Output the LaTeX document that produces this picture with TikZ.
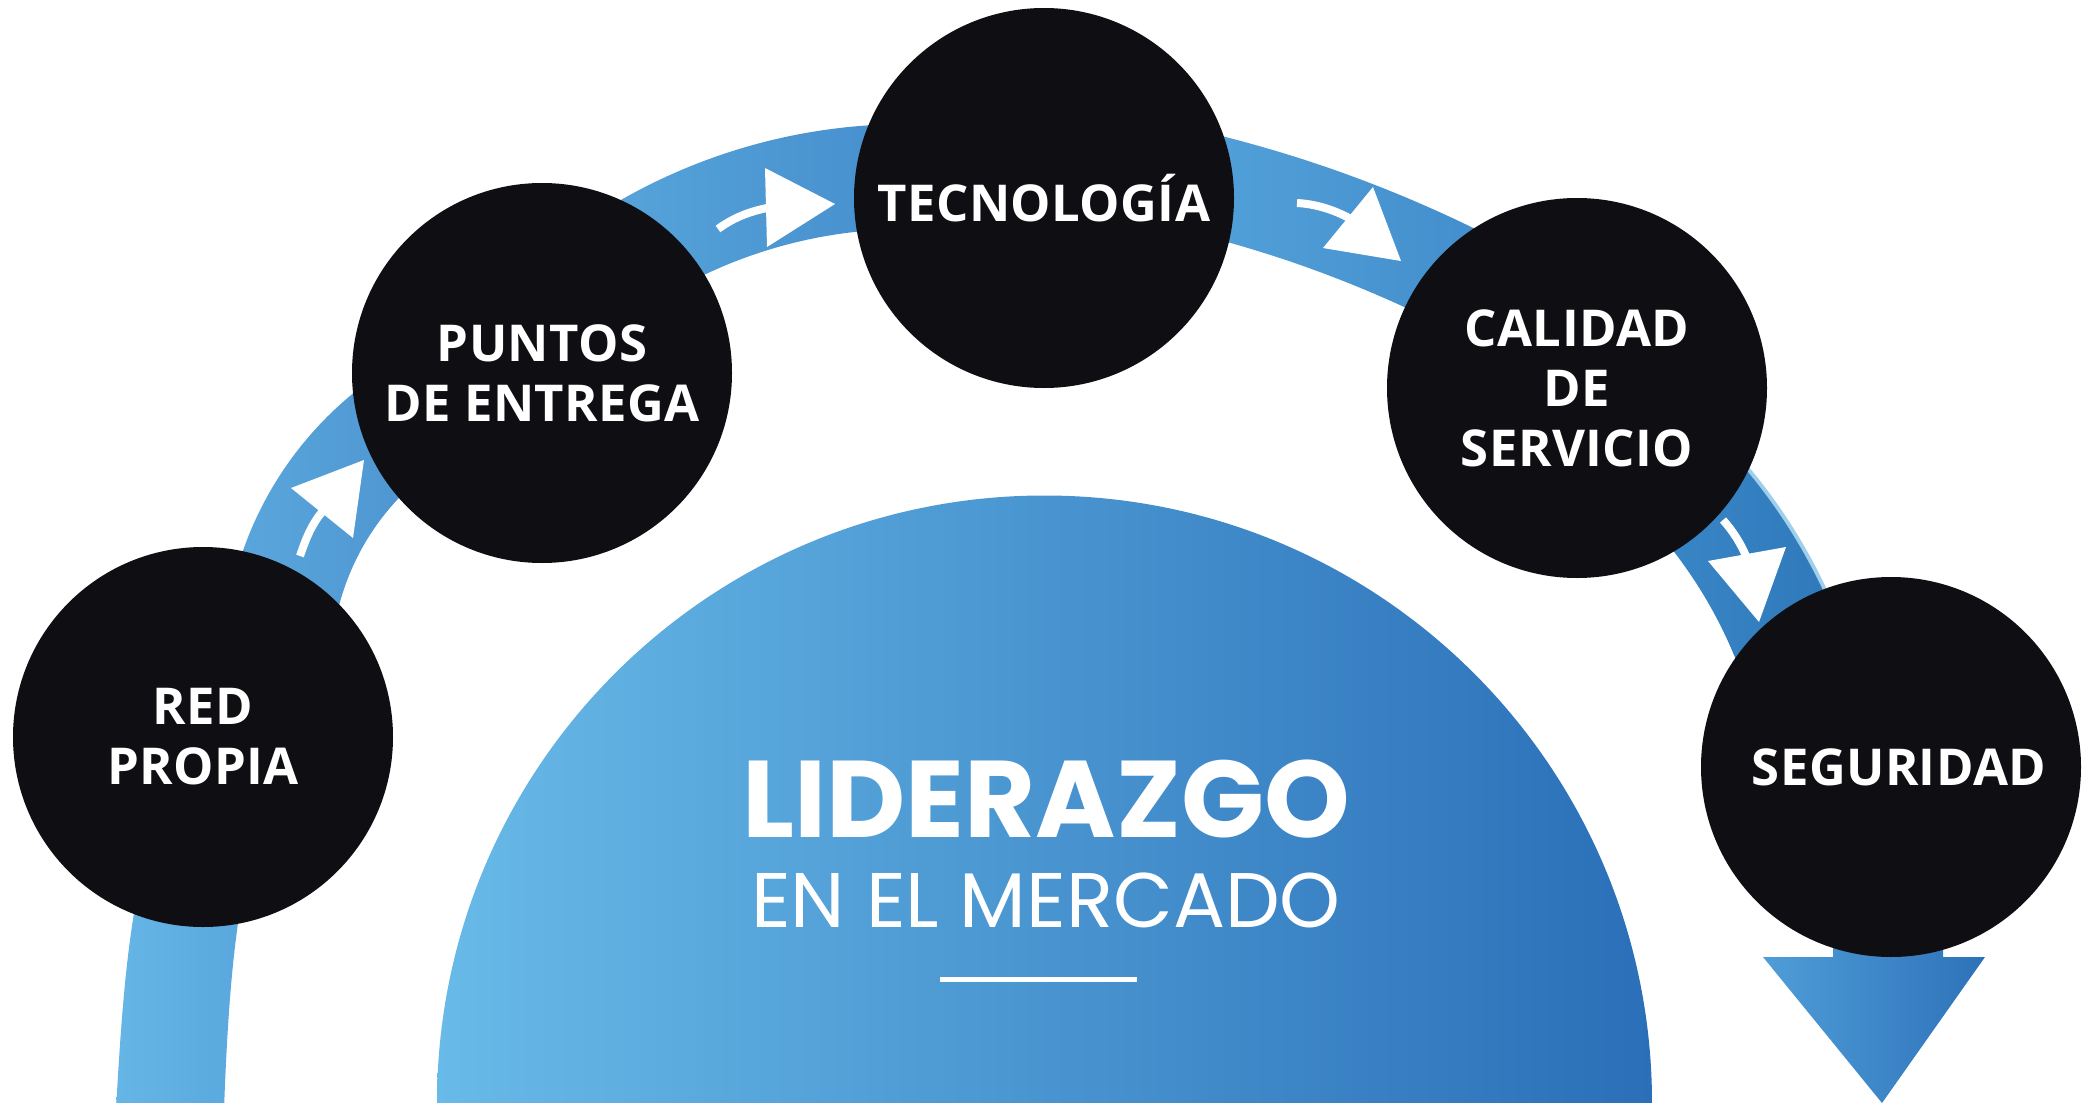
\documentclass[tikz,border=0pt]{standalone}
\usepackage{fontspec}
\setmainfont{Open Sans}
\newfontfamily\labelfont[LetterSpace=0.8]{Open Sans}
\newfontfamily\titlefont{Poppins}
\definecolor{circ}{HTML}{0F0E13}
\definecolor{bigL}{HTML}{68BAE8}
\definecolor{bigR}{HTML}{2A6FB8}
\definecolor{aL}{HTML}{65B6E6}
\definecolor{aR}{HTML}{59A7DD}
\definecolor{bL}{HTML}{5BA8DD}
\definecolor{bR}{HTML}{4A8FCD}
\definecolor{cL}{HTML}{5AA7DC}
\definecolor{cR}{HTML}{3F88C9}
\definecolor{dL}{HTML}{56A5DC}
\definecolor{dR}{HTML}{3F89C9}
\definecolor{eL}{HTML}{3B89C9}
\definecolor{eR}{HTML}{2E77B9}
\definecolor{eEdge}{HTML}{9FCFEA}
\definecolor{fL}{HTML}{4F9DD8}
\definecolor{fR}{HTML}{2D72B9}
\tikzset{
  bubble/.style={circle, fill=circ, minimum size=190pt, inner sep=0pt, text=white,
    font=\labelfont\bfseries\fontsize{25.4}{30}\selectfont, align=center},
  tail/.style={white, line width=4pt},
  tip/.style={fill=white},
}
% annular band: #2 cx, #3 cy, #4 outer R, #5 inner R, #6 start angle, #7 end angle
\newcommand{\bandseg}[7][]{%
  \shade[#1] plot[domain=#6:#7, samples=40, variable=\t] ({#2+#4*cos(\t)},{#3+#4*sin(\t)})
    -- plot[domain=#7:#6, samples=40, variable=\t] ({#2+#5*cos(\t)},{#3+#5*sin(\t)}) -- cycle;}
\begin{document}
\begin{tikzpicture}[x=0.5pt,y=-0.5pt]
\useasboundingbox (0,0) rectangle (2089,1103);
\clip (0,0) rectangle (2089,1103);
% big semicircle
\shade[left color=bigL, right color=bigR] (437,1103) arc[start angle=180, end angle=0, radius=303.75pt] -- cycle;
% band segment A (bottom left)
\shade[left color=aL, right color=aR] (116,1110) .. controls (122,1000) and (128,940) .. (140,880)
  -- (245,880) .. controls (234,940) and (228,1000) .. (224,1110) -- cycle;
% band segment B
\bandseg[left color=bL, right color=bR]{578}{668}{355}{247}{185}{245}
% band segment C
\bandseg[left color=cL, right color=cR]{907}{701}{577}{472}{232}{280}
% band segment D
\bandseg[left color=dL, right color=dR]{907}{1387}{1290}{1189}{281}{300}
% band segment E
\draw[eEdge, line width=2pt] plot[domain=312:345, samples=40, variable=\t] ({1314+564.5*cos(\t)},{830+564.5*sin(\t)});
\bandseg[left color=eL, right color=eR]{1314}{830}{562.6}{455}{312}{345}
% final arrow
\shade[left color=fL, right color=fR] (1833,900) -- (1943,900) -- (1943,957) -- (1985,957) -- (1882,1103) -- (1763,957) -- (1833,957) -- cycle;
% white arrows
\draw[tail] (300,556) .. controls (306,538) and (312,524) .. (322,512);
\fill[tip] (364,460) -- (353,538) -- (291,488) -- cycle;
\draw[tail] (718,229) .. controls (733,218) and (748,212) .. (767,208);
\fill[tip] (765,168) -- (835,204) -- (767,247) -- cycle;
\draw[tail] (1297,203) .. controls (1316,204) and (1334,210) .. (1349,218);
\fill[tip] (1373,187) -- (1401,261) -- (1323,248) -- cycle;
\draw[tail] (1723,520) .. controls (1732,530) and (1740,542) .. (1746,556);
\fill[tip] (1786,547) -- (1759,622) -- (1708,561) -- cycle;
% circles
\node[bubble] (red) at (203,737) {RED\\PROPIA};
\node[bubble] (pun) at (542,373) {PUNTOS\\DE ENTREGA};
\node[bubble] (tec) at (1044,198) {TECNOLOGÍA};
\node[bubble] (cal) at (1577,388) {CALIDAD\\DE\\SERVICIO};
\node[bubble] (seg) at (1891,767) {\kern8pt SEGURIDAD};
% central text
\node[anchor=base, text=white, inner sep=0pt, font=\titlefont\bfseries\fontsize{54.5}{60}\selectfont] (lid) at (1046,837) {LIDERAZGO};
\node[anchor=base, text=white, inner sep=0pt, font=\titlefont\fontsize{38.7}{44}\selectfont] (mer) at (1046,927) {EN EL MERCADO};
\draw[white, line width=2.5pt] (940,979.5) coordinate (u1) -- (1137,979.5) coordinate (u2);
\end{tikzpicture}
\end{document}
